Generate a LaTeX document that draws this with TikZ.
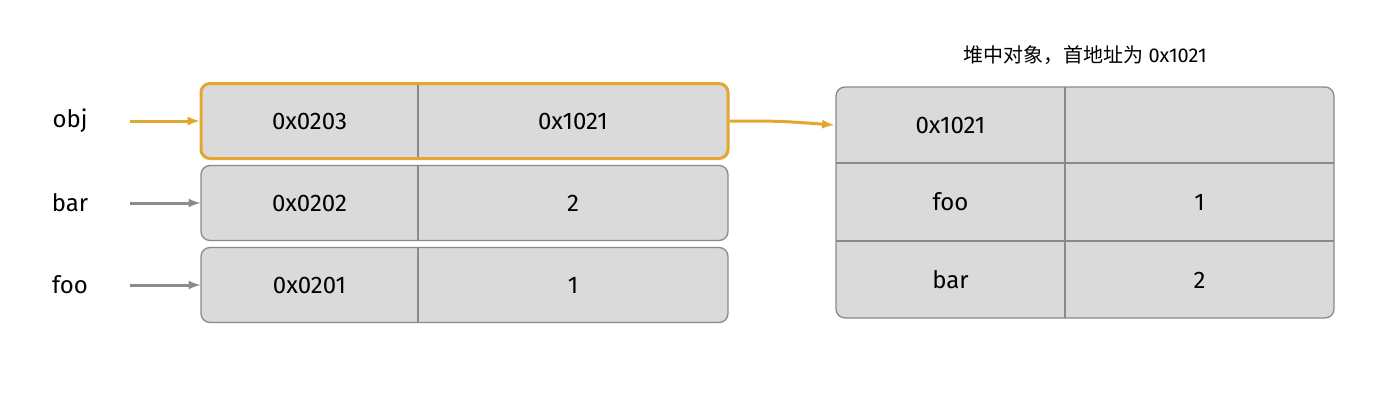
\documentclass[tikz,border=0pt]{standalone}
\usepackage{fontspec}
\setmainfont{Fira Sans}
\newfontfamily\cjk{Noto Sans CJK SC}
\usetikzlibrary{positioning}
\definecolor{cellfill}{HTML}{DADADA}
\definecolor{cellline}{HTML}{8A8A8A}
\definecolor{ptrorange}{HTML}{E3A630}
\definecolor{ptrgray}{HTML}{8C8C8C}

\begin{document}
\begin{tikzpicture}[x=1pt,y=-1pt,
  row/.style={draw=cellline, fill=cellfill, rounded corners=9pt, line width=1.3pt,
              minimum width=527pt, minimum height=75pt},
  cell/.style={font=\fontsize{24}{28}\selectfont},
  varname/.style={font=\fontsize{24}{28}\selectfont},
  ptr/.style={-latex, line width=3pt, draw=ptrgray}]
  \useasboundingbox (0,0) rectangle (1400,420);

  % stack rows
  \foreach \id/\y/\addr/\val in {obj/121/0x0203/0x1021, bar/203/0x0202/2, foo/285/0x0201/1} {
    \node[row] (r\id) at (464.5,\y) {};
    \draw[cellline, line width=1.3pt] (418,\y-37.5) -- (418,\y+37.5);
    \node[cell] (a\id) at (309.5,\y) {\addr};
    \node[cell] (v\id) at (573,\y) {\val};
    \node[varname] (n\id) at (70,\y) {\id};
  }
  \node[row, draw=ptrorange, line width=3pt, fill=none] (hot) at (464.5,121) {};

  % heap object
  \node[draw=cellline, fill=cellfill, rounded corners=9pt, line width=1.3pt,
        minimum width=498pt, minimum height=231pt] (heap) at (1085,202.5) {};
  \draw[cellline, line width=1.3pt] (836,163) -- (1334,163)
        (836,241) -- (1334,241) (1065,87) -- (1065,318);
  \node[cell] (h11) at (950.5,125) {0x1021};
  \node[cell] (h21) at (950.5,202) {foo};
  \node[cell] (h22) at (1199.5,202) {1};
  \node[cell] (h31) at (950.5,280) {bar};
  \node[cell] (h32) at (1199.5,280) {2};
  \coordinate (h11w) at (834,125);
  \node[font=\fontsize{20}{24}\selectfont] (title) at (1085,55) {{\cjk 堆中对象，首地址为} 0x1021};

  % pointers
  \coordinate (sobj) at (130,121);
  \coordinate (sbar) at (130,203);
  \coordinate (sfoo) at (130,285);
  \draw[ptr, draw=ptrorange] (sobj) -- (hot.west);
  \draw[ptr] (sbar) -- (rbar.west);
  \draw[ptr] (sfoo) -- (rfoo.west);
  \draw[ptr, draw=ptrorange] (hot.east) .. controls (780,121) .. (h11w);
\end{tikzpicture}
\end{document}
